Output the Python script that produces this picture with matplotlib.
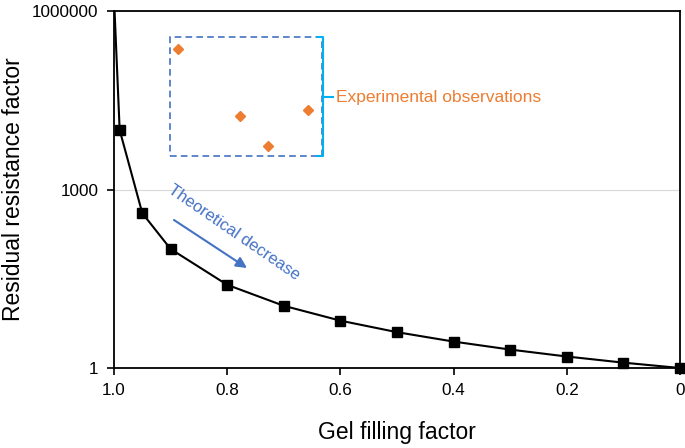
import matplotlib
matplotlib.use("Agg")
import matplotlib.pyplot as plt
from matplotlib.lines import Line2D
from matplotlib.patches import Rectangle

plt.rcParams['font.family'] = ['Liberation Sans', 'DejaVu Sans']

# Theoretical curve
gel_fill = [0.999, 0.99, 0.95, 0.9, 0.8, 0.7, 0.6, 0.5, 0.4, 0.3, 0.2, 0.1, 0.0]
rrf = [1e6, 1e4, 400, 100, 25, 11.1, 6.25, 4.0, 2.78, 2.04, 1.56, 1.23, 1.0]

# Experimental observations
exp_fill = [0.887, 0.777, 0.728, 0.657]
exp_rrf = [229000, 17200, 5400, 21700]

xticks = [1.0, 0.8, 0.6, 0.4, 0.2, 0.0]
xtick_labels = ["1.0", "0.8", "0.6", "0.4", "0.2", "0"]
yticks = [1, 1000, 1000000]
ytick_labels = ["1", "1000", "1000000"]

blue = "#4472C4"
orange = "#ED7D31"
cyan = "#00B0F0"

fig = plt.figure(figsize=(6.85, 4.48), dpi=100)
ax = fig.add_axes([114/685, 1-368/448, 566/685, 357/448])

ax.set_yscale('log')
ax.set_ylim(1, 1e6)
ax.set_xlim(1.0, 0.0)

ax.plot(gel_fill, rrf, color='black', lw=1.5, zorder=3)
ax.plot(gel_fill[1:], rrf[1:], ls='none', marker='s', ms=7.5, color='black',
        clip_on=False, zorder=4)
ax.plot(exp_fill, exp_rrf, ls='none', marker='D', ms=5.5, color=orange, zorder=4)

ax.set_yticks(yticks)
ax.set_yticklabels(ytick_labels)
ax.yaxis.set_minor_locator(matplotlib.ticker.NullLocator())
ax.set_xticks(xticks)
ax.set_xticklabels(xtick_labels)
ax.tick_params(axis='both', which='major', labelsize=12.3, length=5, width=1.2,
               direction='out', pad=6)
ax.grid(axis='y', which='major', color='#D9D9D9', lw=0.8, zorder=0)
ax.set_axisbelow(True)
for s in ax.spines.values():
    s.set_linewidth(1.3)
    s.set_color('black')

ax.set_xlabel("Gel filling factor", fontsize=16.5)
ax.set_ylabel("Residual resistance factor", fontsize=16.5)
ax.xaxis.set_label_coords(0.5, (368-433)/357)
ax.xaxis.label.set_va('center')
ax.yaxis.set_label_coords((14-114)/566, 0.5)
ax.yaxis.label.set_va('center')

# Inset dashed box
bx0, bx1 = (170-114)/566, (322-114)/566
by0, by1 = (368-156)/357, (368-37)/357
ax.add_patch(Rectangle((bx0, by0), bx1-bx0, by1-by0, transform=ax.transAxes,
                       fill=False, edgecolor=blue, ls=(0, (4, 2.5)), lw=1.2, zorder=2))
# Bracket
bxr = (323-114)/566
bxl = (317-114)/566
ymid = (368-97)/357
bxt = (333-114)/566
ax.add_line(Line2D([bxl, bxr, bxr, bxl], [by1, by1, by0, by0], transform=ax.transAxes,
                   color=cyan, lw=1.5, zorder=3))
ax.add_line(Line2D([bxr, bxt], [ymid, ymid], transform=ax.transAxes,
                   color=cyan, lw=1.5, zorder=3))
ax.text((336-114)/566, ymid, "Experimental observations", transform=ax.transAxes,
        color=orange, fontsize=12.5, ha='left', va='center')

# Theoretical decrease annotation
ax.text((234-114)/566, (368-233)/357, "Theoretical decrease", transform=ax.transAxes,
        color=blue, fontsize=12, rotation=-34.5, ha='center', va='center',
        rotation_mode='anchor')
ax.annotate("", xy=((247-114)/566, (368-268)/357), xytext=((174-114)/566, (368-220)/357),
            xycoords='axes fraction', textcoords='axes fraction',
            arrowprops=dict(arrowstyle='-|>', color=blue, lw=1.5, mutation_scale=16,
                            shrinkA=0, shrinkB=0))

fig.savefig("out.png", dpi=100)
